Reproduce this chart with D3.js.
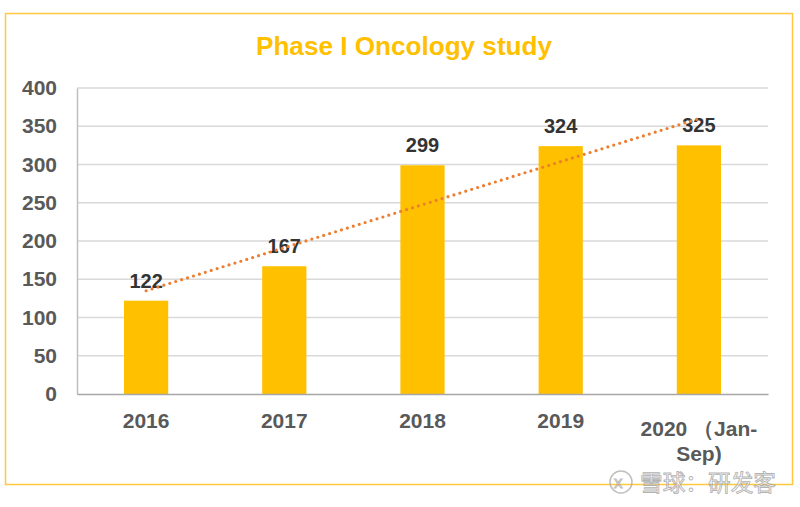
<!DOCTYPE html>
<html><head><meta charset="utf-8">
<script src="https://cdn.jsdelivr.net/npm/d3@7/dist/d3.min.js"></script>
<style>body{margin:0;background:#fff}svg{display:block}</style>
</head><body>
<svg id="chart" width="800" height="507"></svg>
<script>
const categories = ["2016", "2017", "2018", "2019", "2020（Jan-Sep)"];
const categoryLines = [["2016"], ["2017"], ["2018"], ["2019"], ["2020 （Jan-", "Sep)"]];
const values = [122, 167, 299, 324, 325];
const trendValues = [135, 360]; // trendline at first and last category
const yTicks = [0, 50, 100, 150, 200, 250, 300, 350, 400];
const title = "Phase I Oncology study";
const watermark = "雪球：研发客";

const svg = d3.select("#chart");
const M = {left: 77, right: 768, top: 88, bottom: 394};

// outer border
svg.append("rect").attr("x", 5.5).attr("y", 13.5).attr("width", 787).attr("height", 471)
  .attr("fill", "#fff").attr("stroke", "#FFC83D").attr("stroke-width", 1.5);

const x = d3.scaleBand().domain(categories).range([M.left, M.right]).paddingInner(0.68).paddingOuter(0.34);
const y = d3.scaleLinear().domain([0, 400]).range([M.bottom, M.top]);

// title
svg.append("text").attr("x", 404).attr("y", 55).attr("text-anchor", "middle")
  .attr("font-family", "Liberation Sans, Arial, sans-serif").attr("font-weight", "bold")
  .attr("font-size", 26).attr("fill", "#FFC000")
  .attr("textLength", 296).attr("lengthAdjust", "spacingAndGlyphs").text(title);

// gridlines
svg.append("g").selectAll("line").data(yTicks.filter(d => d > 0)).join("line")
  .attr("x1", M.left).attr("x2", M.right).attr("y1", d => y(d)).attr("y2", d => y(d))
  .attr("stroke", "#d9d9d9").attr("stroke-width", 1.5);

// y axis
const yAxis = d3.axisLeft(y).tickValues(yTicks).tickSize(0).tickPadding(20);
const gy = svg.append("g").attr("transform", `translate(${M.left},0)`).call(yAxis);
gy.select(".domain").attr("stroke", "#bfbfbf").attr("stroke-width", 1.5);
gy.selectAll("text").attr("font-family", "Liberation Sans, Arial, sans-serif")
  .attr("font-weight", "bold").attr("font-size", 21).attr("fill", "#595959");

// bars
svg.append("g").selectAll("rect").data(values).join("rect")
  .attr("x", (d, i) => x(categories[i])).attr("width", x.bandwidth())
  .attr("y", d => y(d)).attr("height", d => y(0) - y(d)).attr("fill", "#FFC000");

// x axis
const xAxis = d3.axisBottom(x).tickSize(0).tickFormat("");
const gx = svg.append("g").attr("transform", `translate(0,${M.bottom})`).call(xAxis);
gx.select(".domain").attr("stroke", "#a6a6a6").attr("stroke-width", 1.5);
gx.selectAll(".tick").each(function(d, i) {
  const lines = categoryLines[i];
  const t = d3.select(this).append("text").attr("text-anchor", "middle")
    .attr("font-family", "Liberation Sans, Arial, sans-serif").attr("font-weight", "bold")
    .attr("font-size", 21).attr("fill", "#595959");
  const baseY = lines.length > 1 ? 42 : 34;
  lines.forEach((l, j) => t.append("tspan").attr("x", 0).attr("y", baseY + j * 25).text(l));
});

// value labels
svg.append("g").selectAll("text").data(values).join("text")
  .attr("x", (d, i) => x(categories[i]) + x.bandwidth() / 2).attr("y", d => y(d) - 13)
  .attr("text-anchor", "middle").attr("font-family", "Liberation Sans, Arial, sans-serif")
  .attr("font-weight", "bold").attr("font-size", 20).attr("fill", "#333333").text(d => d);

// trendline
const cx = c => x(c) + x.bandwidth() / 2;
const trendPts = [[cx(categories[0]), y(trendValues[0])], [cx(categories[categories.length - 1]), y(trendValues[1])]];
svg.append("path").attr("d", d3.line()(trendPts)).attr("fill", "none")
  .attr("stroke", "#ED7D31").attr("stroke-width", 3.2).attr("stroke-linecap", "round")
  .attr("stroke-dasharray", "0 6.2");

// watermark
const wm = svg.append("g").attr("opacity", 0.75);
wm.append("circle").attr("cx", 621).attr("cy", 482).attr("r", 11)
  .attr("fill", "none").attr("stroke", "#aaa").attr("stroke-width", 1.5);
wm.append("text").attr("x", 614).attr("y", 488).attr("font-family", "Liberation Sans, Arial, sans-serif")
  .attr("font-size", 17).attr("fill", "none").attr("stroke", "#aaa").attr("stroke-width", 1).text("x");
wm.append("text").attr("x", 640).attr("y", 491)
  .attr("font-family", "Noto Sans CJK SC, sans-serif").attr("font-size", 23)
  .attr("fill", "#fff").attr("stroke", "#9a9a9a").attr("stroke-width", 0.9)
  .attr("textLength", 136).attr("lengthAdjust", "spacingAndGlyphs").text(watermark);
</script>
</body></html>
